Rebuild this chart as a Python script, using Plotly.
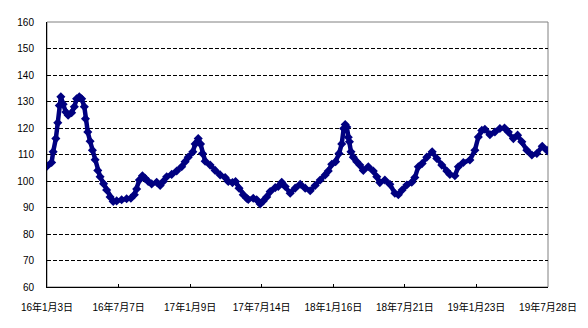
import plotly.graph_objects as go

# day index from 2016-01-03 (category axis, one category per day)
days = [0, 12, 16, 23, 28, 32, 36, 42, 49, 55, 64, 71, 77, 84, 90, 97, 100, 106, 112, 118,
        125, 132, 138, 147, 155, 164, 172, 181, 194, 207, 218, 227, 233, 240, 248, 255,
        263, 272, 285, 294, 302, 311, 324, 337, 350, 359, 367, 379, 385, 393, 399, 404,
        411, 424, 437, 450, 463, 471, 482, 490, 499, 510, 519, 523, 536, 545, 554, 562,
        571, 580, 593, 601, 610, 619, 632, 645, 658, 671, 684, 697, 710, 723, 731, 740,
        750, 759, 766, 771, 775, 779, 783, 786, 790, 796, 805, 813, 822, 835, 848, 857,
        865, 878, 891, 904, 913, 923, 935, 948, 956, 965, 975, 987, 1001, 1013, 1026,
        1039, 1047, 1060, 1069, 1082, 1099, 1112, 1121, 1130, 1138, 1151, 1164, 1177,
        1189, 1199, 1212, 1223, 1234, 1247, 1260, 1273, 1287, 1299, 1302]
values = [105.6, 107, 111, 116, 122, 128.5, 131.8, 129, 126, 124.8, 125.8, 128, 131, 131.8,
          131, 128, 123.5, 118.5, 115, 111.6, 108, 104, 101.6, 99, 96.6, 94, 92.3, 92.5,
          92.9, 93.3, 93.5, 94.8, 97, 100.4, 102, 101, 99.8, 98.9, 99.5, 98.3, 99.8, 101.6,
          102.5, 103.8, 105.4, 107.3, 109, 111, 114, 116, 114, 110.4, 107.5, 106, 104,
          102.3, 101.3, 99.8, 99.4, 99.8, 97.3, 94.8, 93.5, 93, 93.5, 92.9, 91.3, 92.5, 94,
          96, 97.5, 97.9, 99.5, 97.9, 95.4, 97.3, 98.8, 97.3, 96.3, 98.3, 100.4, 102.3,
          103.8, 106.3, 107.3, 110.4, 114, 119.8, 121.3, 120.4, 116.5, 114.8, 111, 109,
          107.3, 106, 104, 105.4, 103.8, 101.6, 99.4, 100.4, 98.8, 95.4, 94.8, 96.6, 98.5,
          99.5, 101.3, 105.4, 106.6, 109, 111, 108.5, 106, 103.8, 102.5, 102, 105.4, 107,
          107.9, 111.6, 116.6, 119.1, 119.5, 117.5, 118.5, 119.8, 120, 118.5, 116, 117.3,
          114.8, 111.6, 109.8, 110.4, 113.1, 111.6, 111.3]

tick_days = [0, 186, 372, 558, 744, 930, 1116, 1302]
tick_labels = ["16年1月3日", "16年7月7日", "17年1月9日", "17年7月14日",
               "18年1月16日", "18年7月21日", "19年1月23日", "19年7月28日"]
y_ticks = [60, 70, 80, 90, 100, 110, 120, 130, 140, 150, 160]

NAVY = "#000080"
fig = go.Figure()
fig.add_trace(go.Scatter(
    x=days, y=values, mode="lines+markers",
    line=dict(color=NAVY, width=4.5),
    marker=dict(symbol="diamond", size=7, color=NAVY),
    showlegend=False, hoverinfo="skip"))

# plot area border (top/right gray)
fig.add_shape(type="rect", xref="paper", yref="paper", x0=0, x1=1, y0=0, y1=1,
              line=dict(color="#808080", width=1), layer="below")

fnt = dict(family="Liberation Sans, Noto Sans CJK JP, sans-serif", size=10, color="#000000")
fig.update_layout(
    width=588, height=328,
    margin=dict(l=47, r=40, t=22, b=41),
    paper_bgcolor="white", plot_bgcolor="white",
    font=fnt,
    xaxis=dict(range=[0, 1302], tickmode="array", tickvals=tick_days, ticktext=tick_labels,
               showgrid=False, zeroline=False, showline=True, linecolor="black", linewidth=1,
               ticks="inside", ticklen=3, tickcolor="black",
               ticklabelstandoff=11,
               tickfont=dict(family="Liberation Sans, Noto Sans CJK JP", size=10, color="black")),
    yaxis=dict(range=[60, 160], tickmode="array", tickvals=y_ticks,
               showgrid=True, gridcolor="black", gridwidth=1, griddash="4px,2px",
               zeroline=False, showline=True, linecolor="black", linewidth=1,
               ticks="", ticklabelstandoff=10,
               tickfont=dict(family="Liberation Sans", size=10, color="black")),
)
fig.write_html("out.html")
